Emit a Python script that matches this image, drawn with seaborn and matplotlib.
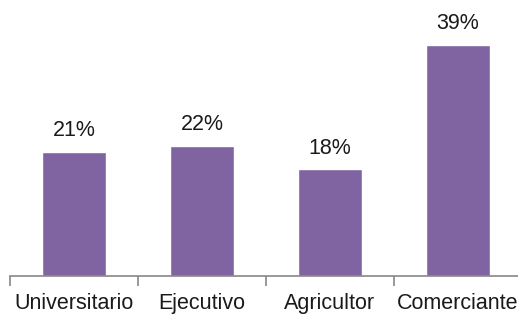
import matplotlib
matplotlib.use("Agg")
import matplotlib.pyplot as plt
import seaborn as sns
import numpy as np

categories = ["Universitario", "Ejecutivo", "Agricultor", "Comerciante"]
values = [21, 22, 18, 39]
labels = ["21%", "22%", "18%", "39%"]

sns.set_style("white")
plt.rcParams['font.family'] = ['Liberation Sans', 'DejaVu Sans']

fig = plt.figure(figsize=(5.18, 3.16), dpi=100)
ax = fig.add_axes([10 / 518, 40 / 316, 512 / 518, 236 / 316])

sns.barplot(x=categories, y=values, color="#8064A2", width=0.5, saturation=1, ax=ax)

for i, (v, lab) in enumerate(zip(values, labels)):
    ax.text(i, v + 1.8, lab, ha="center", va="bottom", fontsize=15.5,
            color="#1a1a1a", clip_on=False)

ax.set_xlim(-0.5, 3.5)
ax.set_ylim(0, 39 * 236 / 231)
ax.set_yticks([])
ax.set_ylabel("")
for s in ["top", "right", "left"]:
    ax.spines[s].set_visible(False)
ax.spines["bottom"].set_color("#888888")
ax.spines["bottom"].set_linewidth(1.2)

ax.set_xticks(np.arange(-0.5, 3.6, 1.0), minor=True)
ax.tick_params(axis="x", which="both", bottom=True)
ax.tick_params(axis="x", which="minor", length=7, width=1.2, color="#888888", direction="out")
ax.tick_params(axis="x", which="major", length=0, labelsize=15.5, labelcolor="#1a1a1a", pad=12)

fig.savefig("out.png", dpi=100)
